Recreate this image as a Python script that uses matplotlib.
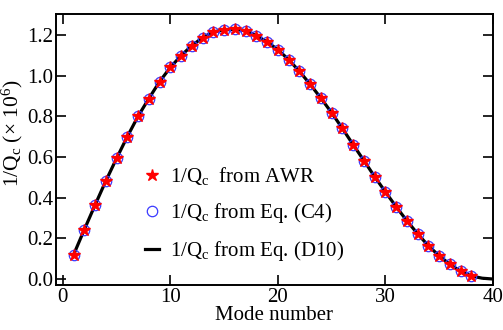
import numpy as np
from matplotlib import pyplot as plt

plt.rcParams['font.family'] = ['Liberation Serif', 'DejaVu Serif']
plt.rcParams['mathtext.fontset'] = 'custom'
plt.rcParams['mathtext.rm'] = 'Liberation Serif'
plt.rcParams['mathtext.it'] = 'Liberation Serif:italic'

# Data (1/Qc x 1e6 vs mode number)
modes = np.arange(1, 39)
awr = [0.119, 0.243, 0.364, 0.482, 0.593, 0.700, 0.800, 0.887, 0.970, 1.040,
       1.098, 1.147, 1.186, 1.214, 1.225, 1.227, 1.220, 1.196, 1.165, 1.127,
       1.078, 1.021, 0.957, 0.889, 0.817, 0.740, 0.660, 0.582, 0.503, 0.428,
       0.355, 0.286, 0.222, 0.163, 0.114, 0.072, 0.038, 0.015]
eq_c4 = awr

modes_line = np.arange(1, 41)
eq_d10 = awr + [0.004, 0.0]


def main():
    fig = plt.figure(figsize=(5.03, 3.30), dpi=100)
    ax = fig.add_axes([0.111, 0.136, 0.869, 0.822])

    ax.plot(modes_line, eq_d10, color='black', lw=2.3, zorder=1,
            label=r'1/Q$_\mathrm{c}$ from Eq. (D10)')
    ax.plot(modes, eq_c4, 'o', ms=7.5, mfc='none', mec='#3a3aff', mew=0.9,
            zorder=2, label=r'1/Q$_\mathrm{c}$ from Eq. (C4)')
    ax.plot(modes, awr, '*', ms=9, color='red', mec='red', zorder=3,
            label=r'1/Q$_\mathrm{c}$  from AWR')

    ax.set_xlim(-0.65, 40)
    ax.set_ylim(-0.03, 1.303)
    ax.set_xticks([0, 10, 20, 30, 40])
    ax.set_yticks([0.0, 0.2, 0.4, 0.6, 0.8, 1.0, 1.2])
    ax.set_yticklabels(['0.0', '0.2', '0.4', '0.6', '0.8', '1.0', '1.2'])
    ax.tick_params(direction='in', length=7, width=1.2, top=True, right=True,
                   labelsize=15, pad=2)
    for s in ax.spines.values():
        s.set_linewidth(1.4)

    ax.set_xlabel('Mode number', fontsize=15, labelpad=-1)
    ax.set_ylabel(r'1/Q$_\mathrm{c}$ (× 10$^6$)', fontsize=15.5)
    ax.yaxis.set_label_coords(-0.07, 0.56)

    handles, labels = ax.get_legend_handles_labels()
    ax.legend(handles[::-1], labels[::-1], loc='upper left',
              bbox_to_anchor=(0.17, 0.497), frameon=False, fontsize=15,
              handlelength=0.7, handletextpad=0.5, labelspacing=0.68,
              borderpad=0.2)

    fig.savefig('out.png', dpi=100)
    plt.close(fig)


if __name__ == "__main__":
    main()
